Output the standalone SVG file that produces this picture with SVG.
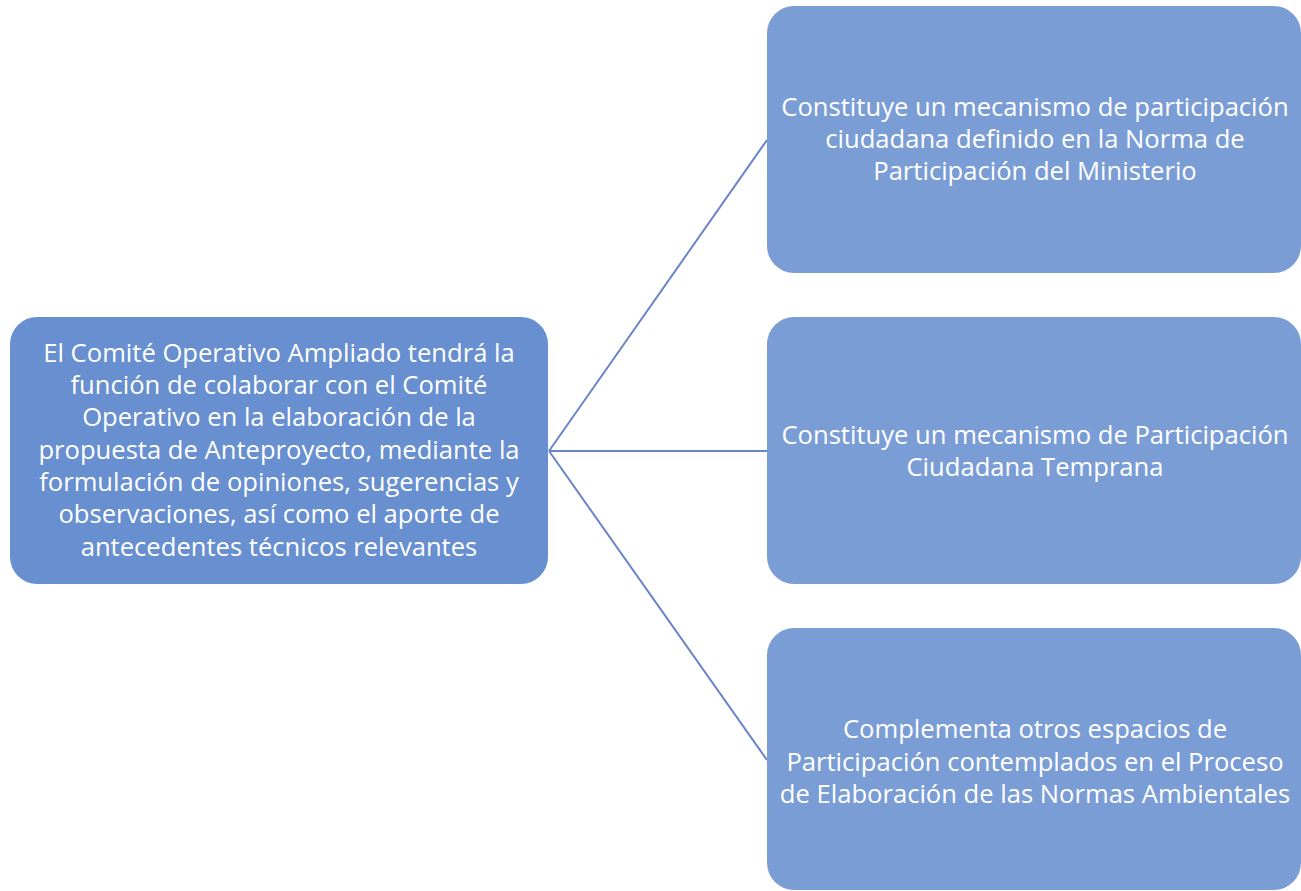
<svg xmlns="http://www.w3.org/2000/svg" width="1301" height="891" viewBox="0 0 1301 891">
<style>
.main{fill:#688fd0}
.sub{fill:#7b9dd6}
.t{font-family:"Open Sans","Liberation Sans",Arial,sans-serif;font-size:25.6px;fill:#ffffff;text-anchor:middle}
.c{stroke:#6a84c8;stroke-width:2;fill:none}
</style>
<rect width="1301" height="891" fill="#ffffff"/>
<g id="connectors">
<line class="c" x1="549" y1="451" x2="767" y2="140"/>
<line class="c" x1="549" y1="451" x2="767" y2="451"/>
<line class="c" x1="549" y1="451" x2="767" y2="760"/>
</g>
<g id="node-main">
<rect class="main" x="10" y="317" width="538" height="267" rx="27"/>
<text class="t" x="279" y="362">El Comité Operativo Ampliado tendrá la</text>
<text class="t" x="279" y="394">función de colaborar con el Comité</text>
<text class="t" x="279" y="426">Operativo en la elaboración de la</text>
<text class="t" x="279" y="459">propuesta de Anteproyecto, mediante la</text>
<text class="t" x="279" y="491">formulación de opiniones, sugerencias y</text>
<text class="t" x="279" y="523">observaciones, así como el aporte de</text>
<text class="t" x="279" y="556">antecedentes técnicos relevantes</text>
</g>
<g id="node-1">
<rect class="sub" x="767" y="6" width="534" height="267" rx="27"/>
<text class="t" x="1035" y="116">Constituye un mecanismo de participación</text>
<text class="t" x="1035" y="148">ciudadana definido en la Norma de</text>
<text class="t" x="1035" y="180">Participación del Ministerio</text>
</g>
<g id="node-2">
<rect class="sub" x="767" y="317" width="534" height="267" rx="27"/>
<text class="t" x="1035" y="444">Constituye un mecanismo de Participación</text>
<text class="t" x="1035" y="476">Ciudadana Temprana</text>
</g>
<g id="node-3">
<rect class="sub" x="767" y="628" width="534" height="262" rx="27"/>
<text class="t" x="1035" y="738">Complementa otros espacios de</text>
<text class="t" x="1035" y="771">Participación contemplados en el Proceso</text>
<text class="t" x="1035" y="803">de Elaboración de las Normas Ambientales</text>
</g>
</svg>
